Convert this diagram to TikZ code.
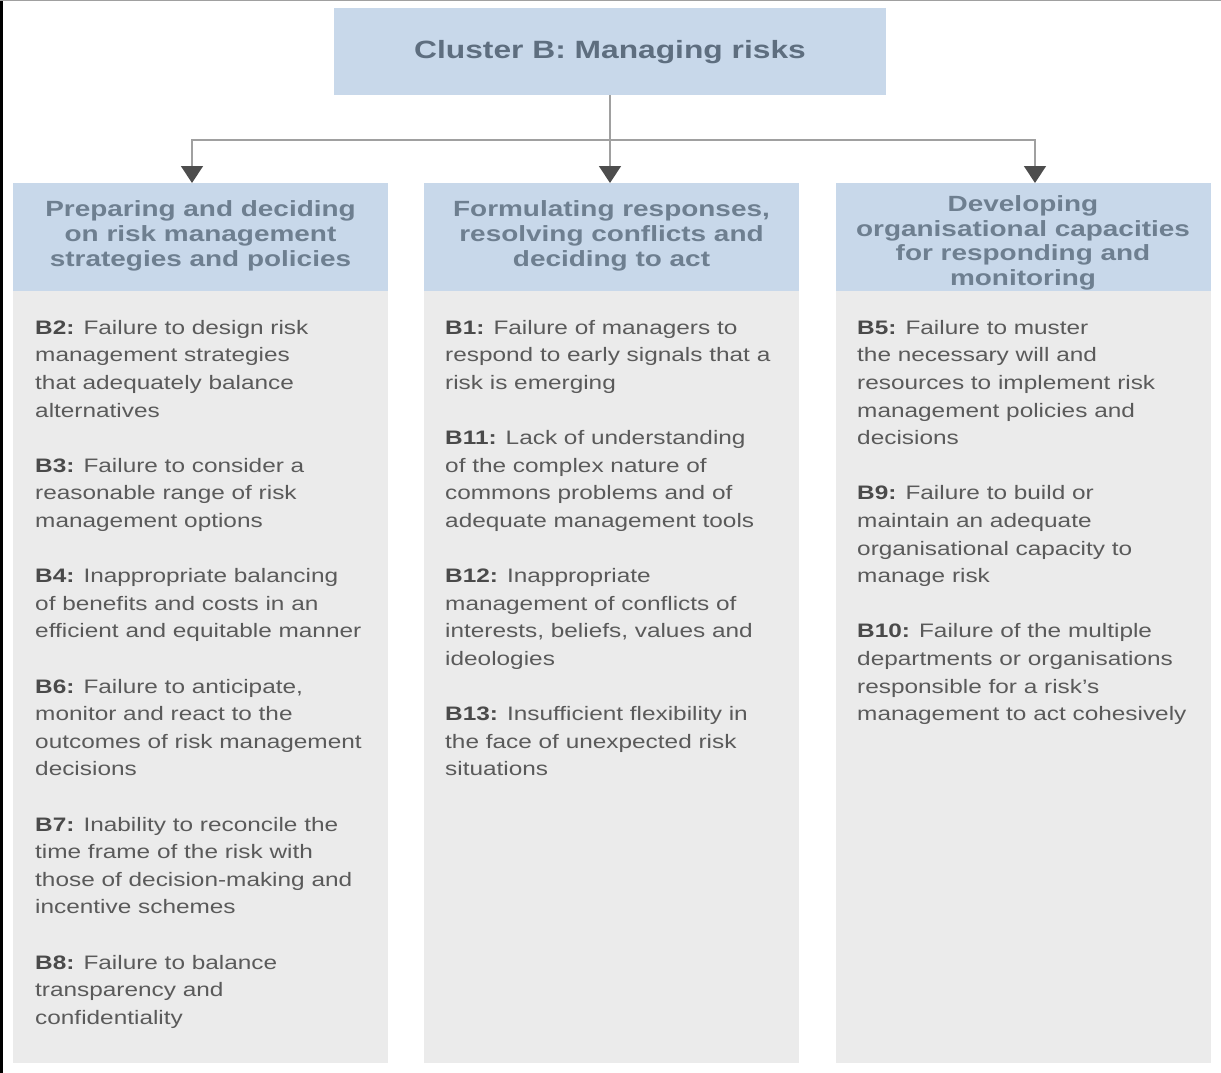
\documentclass[tikz,border=0pt]{standalone}
\usepackage{fontspec}
\setmainfont[FakeStretch=1.27]{Liberation Sans}
\newfontfamily\bodyfont[FakeStretch=1.25]{Liberation Sans}
\usetikzlibrary{arrows.meta}
\definecolor{hdr}{HTML}{C8D8EA}
\definecolor{bodybg}{HTML}{EBEBEB}
\definecolor{hdrtxt}{HTML}{6E7F90}
\definecolor{toptxt}{HTML}{5E6E7F}
\definecolor{bodytxt}{HTML}{5A5A5A}
\definecolor{lbl}{HTML}{4A4A4A}
\definecolor{linec}{HTML}{A0A0A0}
\definecolor{tipc}{HTML}{4D4D4D}
\newcommand\blab[1]{\textbf{\color{lbl}#1}}
\begin{document}
\begin{tikzpicture}[x=1pt,y=-1pt,
 hbox/.style={fill=hdr, draw=none, minimum width=375pt, minimum height=108pt, inner sep=0},
 bbox/.style={fill=bodybg, draw=none, minimum width=375pt, minimum height=772pt, inner sep=0},
 htext/.style={font=\fontsize{22}{24.7}\selectfont\bfseries, text=hdrtxt, align=center, inner sep=0},
 btext/.style={font=\bodyfont\fontsize{19.5}{27.6}\selectfont, text=bodytxt, align=left, inner sep=0, anchor=north west},
 conn/.style={draw=linec, line width=1.5pt},
 arr/.style={conn, -{Triangle[width=22pt,length=17pt,color=tipc,fill=tipc]}}
]
\useasboundingbox (0,0) rectangle (1221,1073);
\fill[white] (0,0) rectangle (1221,1073);
\draw[black, line width=2.5pt] (1.25,0) -- (1.25,1073);
\draw[linec, line width=1.5pt] (0,0.75) -- (1221,0.75);

\node[fill=hdr, draw=none, minimum width=552pt, minimum height=87pt, inner sep=0,
      font=\fontsize{25}{28}\selectfont\bfseries, text=toptxt] (top) at (610,51.5) {\raisebox{-7.5pt}[0pt][0pt]{Cluster B: Managing risks}};

\node[hbox] (h1) at (200.5,237) {};
\node[hbox] (h2) at (611.5,237) {};
\node[hbox] (h3) at (1023,237) {};
\node[bbox] (b1) at (200.5,677) {};
\node[bbox] (b2) at (611.5,677) {};
\node[bbox] (b3) at (1023,677) {};

\coordinate (j) at (610,140);
\coordinate (a1) at (192,183);
\coordinate (a2) at (610,183);
\coordinate (a3) at (1035,183);
\draw[arr] (top.south) -- (a2);
\draw[arr] (j) -| (a1);
\draw[arr] (j) -| (a3);

\node[htext] (t1) at (200.5,236) {Preparing and deciding\\on risk management\\strategies and policies};
\node[htext] (t2) at (611.5,236) {Formulating responses,\\resolving conflicts and\\deciding to act};
\node[htext] (t3) at (1023,243) {Developing\\organisational capacities\\for responding and\\monitoring};

\node[btext] (c1) at (35,320) {\blab{B2:} Failure to design risk\\management strategies\\that adequately balance\\alternatives\\[27.6pt]
\blab{B3:} Failure to consider a\\reasonable range of risk\\management options\\[27.6pt]
\blab{B4:} Inappropriate balancing\\of benefits and costs in an\\efficient and equitable manner\\[27.6pt]
\blab{B6:} Failure to anticipate,\\monitor and react to the\\outcomes of risk management\\decisions\\[27.6pt]
\blab{B7:} Inability to reconcile the\\time frame of the risk with\\those of decision-making and\\incentive schemes\\[27.6pt]
\blab{B8:} Failure to balance\\transparency and\\confidentiality};

\node[btext] (c2) at (445,320) {\blab{B1:} Failure of managers to\\respond to early signals that a\\risk is emerging\\[27.6pt]
\blab{B11:} Lack of understanding\\of the complex nature of\\commons problems and of\\adequate management tools\\[27.6pt]
\blab{B12:} Inappropriate\\management of conflicts of\\interests, beliefs, values and\\ideologies\\[27.6pt]
\blab{B13:} Insufficient flexibility in\\the face of unexpected risk\\situations};

\node[btext] (c3) at (857,320) {\blab{B5:} Failure to muster\\the necessary will and\\resources to implement risk\\management policies and\\decisions\\[27.6pt]
\blab{B9:} Failure to build or\\maintain an adequate\\organisational capacity to\\manage risk\\[27.6pt]
\blab{B10:} Failure of the multiple\\departments or organisations\\responsible for a risk’s\\management to act cohesively};
\end{tikzpicture}
\end{document}
